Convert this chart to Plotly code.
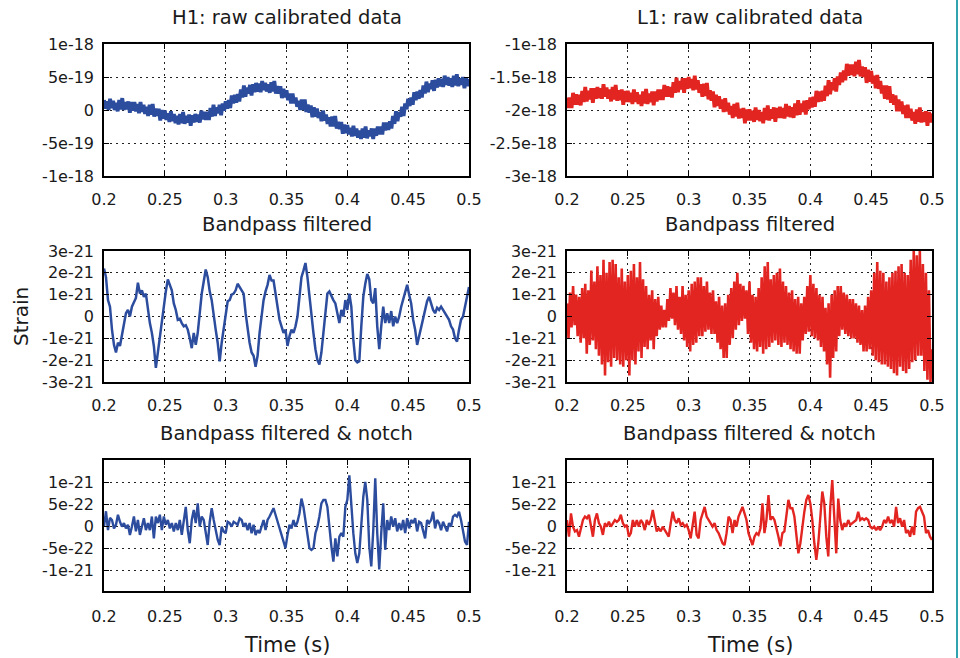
import numpy as np
import plotly.graph_objects as go

# ---------------- data ----------------
# raw calibrated strain, units of 1e-18, sampled every 0.00125 s from 0.2 to 0.5 s
h1_raw_e18 = [
    0.15, 0.02, 0.13, 0.00, 0.17, 0.03, 0.14, 0.00, 0.11, -0.02, 0.15, 0.01,
    0.18, 0.00, 0.12, 0.01, 0.13, -0.04, 0.12, -0.01, 0.12, -0.02, 0.09, -0.05,
    0.12, -0.03, 0.08, -0.06, 0.05, -0.09, 0.08, -0.07, 0.09, -0.10, 0.02, -0.09,
    0.02, -0.16, 0.00, -0.13, -0.01, -0.15, -0.05, -0.18, -0.02, -0.17, -0.06, -0.20,
    -0.09, -0.22, -0.06, -0.20, -0.03, -0.21, -0.09, -0.19, -0.07, -0.24, -0.08, -0.19,
    -0.06, -0.18, -0.07, -0.19, -0.01, -0.14, -0.03, -0.15, -0.03, -0.15, 0.03, -0.10,
    0.08, -0.09, 0.04, -0.05, 0.08, -0.08, 0.10, -0.01, 0.13, 0.02, 0.15, 0.03,
    0.22, 0.10, 0.23, 0.11, 0.24, 0.13, 0.31, 0.19, 0.37, 0.20, 0.34, 0.25,
    0.38, 0.22, 0.39, 0.27, 0.41, 0.28, 0.40, 0.27, 0.44, 0.30, 0.41, 0.28,
    0.39, 0.26, 0.42, 0.28, 0.44, 0.25, 0.36, 0.25, 0.36, 0.18, 0.32, 0.19,
    0.30, 0.15, 0.25, 0.10, 0.25, 0.10, 0.19, 0.05, 0.14, 0.00, 0.16, 0.00,
    0.16, -0.03, 0.08, -0.04, 0.07, -0.11, 0.04, -0.10, 0.02, -0.12, -0.03, -0.17,
    -0.01, -0.16, -0.07, -0.21, -0.11, -0.25, -0.10, -0.25, -0.09, -0.28, -0.18, -0.29,
    -0.18, -0.36, -0.22, -0.35, -0.23, -0.37, -0.27, -0.40, -0.24, -0.39, -0.28, -0.42,
    -0.31, -0.44, -0.28, -0.42, -0.25, -0.43, -0.31, -0.40, -0.28, -0.44, -0.28, -0.39,
    -0.25, -0.37, -0.25, -0.37, -0.19, -0.31, -0.19, -0.30, -0.17, -0.28, -0.09, -0.21,
    -0.02, -0.17, -0.03, -0.10, 0.05, -0.09, 0.10, 0.01, 0.17, 0.06, 0.19, 0.08,
    0.27, 0.15, 0.28, 0.17, 0.30, 0.19, 0.37, 0.25, 0.43, 0.27, 0.40, 0.32,
    0.45, 0.29, 0.46, 0.34, 0.48, 0.36, 0.47, 0.35, 0.52, 0.38, 0.50, 0.37,
    0.48, 0.35, 0.52, 0.37, 0.54, 0.36, 0.48, 0.38, 0.50, 0.33, 0.49, 0.36,
    0.47,
]
l1_raw_e18 = [
    -1.81, -1.97, -1.81, -1.97, -1.74, -1.92, -1.76, -1.92, -1.77, -1.93, -1.71, -1.88,
    -1.65, -1.87, -1.71, -1.84, -1.67, -1.89, -1.67, -1.83, -1.65, -1.82, -1.67, -1.83,
    -1.61, -1.80, -1.66, -1.83, -1.69, -1.87, -1.65, -1.84, -1.62, -1.86, -1.70, -1.85,
    -1.69, -1.92, -1.71, -1.88, -1.71, -1.88, -1.74, -1.91, -1.69, -1.88, -1.73, -1.91,
    -1.77, -1.94, -1.72, -1.90, -1.68, -1.91, -1.75, -1.88, -1.72, -1.93, -1.72, -1.87,
    -1.69, -1.85, -1.69, -1.85, -1.62, -1.80, -1.64, -1.80, -1.65, -1.81, -1.58, -1.74,
    -1.51, -1.73, -1.56, -1.69, -1.52, -1.74, -1.52, -1.68, -1.50, -1.67, -1.53, -1.70,
    -1.48, -1.69, -1.55, -1.74, -1.61, -1.80, -1.60, -1.79, -1.59, -1.84, -1.70, -1.86,
    -1.72, -1.96, -1.77, -1.94, -1.79, -1.98, -1.84, -2.03, -1.82, -2.02, -1.89, -2.07,
    -1.94, -2.12, -1.91, -2.10, -1.89, -2.13, -1.98, -2.12, -1.97, -2.20, -1.99, -2.16,
    -1.99, -2.16, -2.01, -2.18, -1.96, -2.15, -2.00, -2.17, -2.03, -2.20, -1.97, -2.15,
    -1.93, -2.16, -1.99, -2.13, -1.96, -2.18, -1.97, -2.12, -1.95, -2.12, -1.97, -2.13,
    -1.91, -2.10, -1.94, -2.11, -1.96, -2.12, -1.90, -2.08, -1.85, -2.07, -1.90, -2.03,
    -1.86, -2.07, -1.85, -1.99, -1.81, -1.96, -1.80, -1.95, -1.71, -1.88, -1.72, -1.87,
    -1.71, -1.86, -1.63, -1.79, -1.55, -1.76, -1.58, -1.70, -1.52, -1.72, -1.49, -1.62,
    -1.43, -1.58, -1.40, -1.55, -1.30, -1.48, -1.31, -1.47, -1.31, -1.49, -1.27, -1.46,
    -1.24, -1.49, -1.34, -1.50, -1.35, -1.59, -1.39, -1.57, -1.41, -1.60, -1.48, -1.67,
    -1.47, -1.68, -1.56, -1.75, -1.63, -1.83, -1.63, -1.84, -1.64, -1.89, -1.76, -1.92,
    -1.78, -2.02, -1.84, -2.02, -1.87, -2.06, -1.93, -2.12, -1.92, -2.12, -1.98, -2.16,
    -2.03, -2.21, -1.99, -2.18, -1.96, -2.19, -2.03, -2.18, -2.02, -2.24, -2.03, -2.19,
    -2.05,
]

# bandpass filtered strain, units of 1e-21
h1_band_e21 = [
    2.2, 1.8, 0.75, 0.45, -0.6, -1.3, -1.65, -1.2, -1.35, -0.85,
    -0.45, 0.15, 0.3, 0, 0.45, 0.7, 0.85, 1.55, 1.05, 1.2,
    0.9, 1.05, 0.3, -0.3, -0.75, -1.35, -2.35, -1.65, -0.9, -0.15,
    0.6, 1.15, 1.7, 1.45, 1.2, 0.6, 0.3, -0.15, -0.1, -0.3,
    -0.45, -0.4, -0.6, -1.0, -1.45, -0.75, -1.3, -0.75, 0.3, 1.05,
    1.6, 2.15, 1.8, 1.15, 0.75, 0, -0.6, -1.2, -2.05, -1.2,
    -0.6, 0.15, 0.7, 0.75, 1.0, 1.05, 1.2, 1.5, 1.35, 1.2,
    1.05, 0.15, -0.6, -1.2, -1.65, -1.8, -2.3, -1.8, -0.75, 0,
    0.75, 1.15, 1.45, 1.9, 1.65, 1.65, 1.05, 0.3, -0.15, -0.45,
    -0.75, -0.6, -1.35, -0.9, -0.6, -0.75, -0.45, 0, 0.9, 1.8,
    2.1, 2.45, 1.8, 0.9, -0.15, -0.75, -1.5, -2.0, -2.2, -1.65,
    -0.75, 0.15, 1.05, 1.15, 0.9, 0.75, 0.6, 0.15, -0.3, 0.3,
    0, 0.75, 0.3, 1.05, 0.45, -1.05, -2.0, -2.1, -2.05, -0.45,
    0.9, 1.5, 1.95, 1.7, 0.75, 0.6, 1.3, -0.45, -1.5, -0.45,
    0.45, -0.3, 0.15, -0.3, 0.25, -0.45, 0, -0.3, 0, 0.45,
    0.75, 1.05, 1.45, 1.0, 0.6, -0.15, -0.6, -1.3, -0.9, -0.6,
    -0.15, 0.3, 0.7, 0.9, 0.6, 0.3, 0.15, 0.4, 0.3, 0.45,
    0.3, 0.15, 0, -0.15, -0.45, -0.6, -1.0, -1.15, -0.6, -0.15,
    0, 0.45, 0.75, 1.35,
]
l1_band_e21 = [
    0.6, -1.0, 1.1, -0.5, 1.4, -0.4, 1.0, -0.9, 0.9, -1.2, 1.3, -1.0,
    1.5, -1.7, 1.2, -1.3, 2.1, -1.1, 1.6, -1.5, 2.3, -1.8, 1.9, -2.2,
    2.6, -2.7, 2.0, -2.1, 2.5, -2.3, 2.6, -1.9, 2.4, -2.0, 1.8, -2.2,
    2.2, -2.3, 1.6, -2.0, 1.9, -2.7, 2.1, -2.0, 2.4, -2.2, 1.8, -1.6,
    2.5, -1.9, 1.7, -1.4, 1.4, -1.5, 1.0, -1.1, 1.2, -1.5, 0.8, -0.9,
    0.9, -0.6, 0.5, -0.5, 0.3, -0.5, 0.8, -0.2, 1.3, -0.1, 1.1, -0.4,
    1.4, -0.6, 0.9, -0.8, 1.4, -1.1, 1.0, -1.4, 1.2, -1.6, 1.5, -1.3,
    1.6, -1.2, 1.8, -0.9, 1.8, -0.9, 1.4, -0.7, 1.6, -0.6, 1.1, -0.8,
    1.2, -0.8, 0.7, -1.2, 0.9, -1.5, 0.5, -1.9, 0.6, -1.9, 1.0, -1.3,
    1.3, -1.0, 1.6, -0.6, 2.0, -0.4, 1.5, -0.2, 1.4, -0.1, 1.2, -0.8,
    1.6, -1.2, 1.0, -1.5, 0.9, -1.6, 1.3, -1.4, 1.8, -1.7, 2.3, -1.5,
    2.5, -1.4, 1.7, -1.2, 1.9, -1.1, 2.0, -1.3, 2.2, -1.4, 1.6, -1.2,
    1.4, -1.3, 1.1, -1.5, 1.2, -1.6, 0.8, -1.7, 0.9, -1.7, 0.6, -1.1,
    0.9, -0.8, 1.4, -0.7, 1.9, -0.9, 1.5, -1.0, 1.3, -1.1, 1.0, -1.4,
    0.9, -1.6, 0.4, -2.2, 0.6, -2.8, 1.0, -1.9, 1.2, -1.6, 1.4, -0.9,
    1.4, -0.6, 1.1, -0.8, 1.0, -0.9, 0.8, -1.0, 0.8, -1.0, 0.6, -1.2,
    0.5, -1.3, 0.3, -1.6, 0.5, -1.6, 0.9, -1.5, 1.2, -1.8, 2.0, -2.0,
    2.5, -2.1, 2.1, -2.2, 2.0, -2.2, 1.6, -2.3, 1.8, -2.4, 2.0, -2.6,
    2.1, -2.7, 2.3, -2.3, 2.4, -2.5, 2.0, -2.6, 1.9, -2.4, 2.6, -2.1,
    3.0, -2.0, 2.8, -1.8, 3.0, -1.8, 2.4, -2.5, 2.0, -2.9, 1.2, -3.0,
    -1.5,
]

# bandpass filtered + notch, units of 1e-22
h1_notch_e22 = [
    0, 3.5, -0.8, 2.0, 1.5, -0.4,
    0.4, 2.7, 1.1, 0, 0.8, -0.4, 0.4, -1.9, 0, 2.3, -1.1, 1.5, -1.9, 0,
    1.9, -0.8, 0.8, -0.8, 2.3, -2.7, 2.3, 0.8, 2.7, -0.8, 2.3, 0.4, 1.5, -0.4,
    0.8, -1.1, 0.8, -0.8, 1.5, -1.9, 0.8, 4.5, -0.8, -3.8, 1.5, 3.8, 0.8, 5.3,
    0, 2.3, 1.5, -1.5, -4.2, 1.1, 4.2, 1.5, -1.1, -3.0, -4.2, 0, -1.1, -1.5,
    1.1, 0.8, 0, 1.1, 0.8, 0.4, 1.9, 1.5, 0, 0.8, -0.8, 0.8, -1.5, 0.4,
    -1.9, -0.8, -1.5, 0, 1.5, -0.8, 1.5, 2.3, 3.4, 4.2, 2.7, 1.1, -0.4, -1.5,
    -3.4, -4.9, -1.9, 0.4, -0.4, 1.5, 0, 1.1, 3.0, 6.4, 4.5, 1.5, -1.5, -4.9,
    -5.3, -4.9, -1.5, 0, 2.3, 5.3, 6.1, 6.1, 4.5, -0.8, -4.5, -8.0, -2.7, -6.8,
    -2.3, -1.5, -2.3, 4.5, 6.1, 11.7, 4.5, -1.5, -6.1, -8.3, -6.1, 0.8, 6.8, 10.2,
    6.1, -4.5, -9.1, -0.8, 11.0, -1.5, -9.8, -1.5, 5.3, -5.3, 1.5, -0.8, 2.3, 0,
    1.9, -1.1, 0.8, -0.8, 1.5, -1.5, 1.9, -0.4, 1.5, 0.8, 1.9, -1.1, 1.1, 0.8,
    -0.8, -2.7, 1.5, 0.8, 1.5, 3.4, -0.4, 1.5, 0.8, -0.8, 1.1, 0, -1.1, 0.8,
    0, 2.3, 2.7, 2.3, 3.4, 1.5, -1.1, -3.4, -4.2, 1.1,
]
l1_notch_e22 = [
    1.5, -2.3, 3.0, 0, -1.1, -0.8, -2.3, 0, 1.5, 2.3, 1.9, 2.7, 0, -2.3,
    1.5, 3.0, 0.8, 0, -1.9, 0.8, 0, 1.1, 0, 0.8, 1.5, 1.1, 1.5, 2.7,
    0.8, 0, 0.4, -2.3, -1.5, 1.5, 0, 1.5, 0, 1.5, 0.8, -0.8, 1.5, 0.4,
    1.5, 3.8, 1.5, -1.1, -0.4, -1.1, 0, -0.8, -1.5, -2.3, 0.8, 3.4, 1.5, 0.8,
    1.9, 0.4, 0.8, 0, 0.4, -0.8, -2.7, 0.8, 3.4, -1.9, -2.7, 1.5, 3.0, 4.5,
    2.3, 1.5, 0.8, 0, 0.8, -0.8, -1.5, -2.7, -3.8, -4.2, -1.5, 2.3, 1.5, -1.5,
    1.5, 0, 2.3, 3.4, 4.5, 3.0, 1.5, -1.5, -2.7, -4.2, -2.3, -1.5, -1.9, -0.4,
    5.3, -1.5, 1.5, 7.2, 1.5, 2.3, 1.5, -0.8, -2.3, -4.5, -1.5, -1.1, 2.3, 6.1,
    4.2, 4.2, 2.3, -1.5, -6.1, -3.8, 0, 3.4, 6.1, 7.2, 5.3, 1.5, -3.8, -7.6,
    -3.8, 3.0, 8.0, 5.3, -2.3, -6.8, 4.5, 10.6, 3.0, -6.1, 6.4, 1.5, -0.8, 0.8,
    0, 1.5, 0.4, 0.8, 1.1, 1.5, 3.4, 1.5, 1.9, 1.5, 1.9, 1.5, 0, -0.4,
    0, -0.8, 0, -0.8, 0, 1.5, 0.8, 2.3, 0.8, 1.5, 0, 4.5, 0.8, 1.9,
    0, 1.5, -1.5, -0.8, -2.3, 0, -1.9, 3.4, 4.2, 4.5, 3.4, 2.3, -1.5, -0.8,
    -2.3, -3.0,
]

x_ticks = [0.2, 0.25, 0.3, 0.35, 0.4, 0.45, 0.5]
x_ticktext = ["0.2", "0.25", "0.3", "0.35", "0.4", "0.45", "0.5"]
h1_raw_ticks = [-1e-18, -5e-19, 0, 5e-19, 1e-18]
h1_raw_ticktext = ["-1e-18", "-5e-19", "0", "5e-19", "1e-18"]
l1_raw_ticks = [-3e-18, -2.5e-18, -2e-18, -1.5e-18, -1e-18]
l1_raw_ticktext = ["-3e-18", "-2.5e-18", "-2e-18", "-1.5e-18", "-1e-18"]
band_ticks = [-3e-21, -2e-21, -1e-21, 0, 1e-21, 2e-21, 3e-21]
band_ticktext = ["-3e-21", "-2e-21", "-1e-21", "0", "1e-21", "2e-21", "3e-21"]
notch_ticks = [-1e-21, -5e-22, 0, 5e-22, 1e-21]
notch_ticktext = ["-1e-21", "-5e-22", "0", "5e-22", "1e-21"]

titles = ["H1: raw calibrated data", "L1: raw calibrated data",
          "Bandpass filtered", "Bandpass filtered",
          "Bandpass filtered & notch", "Bandpass filtered & notch"]

BLUE = "#2c4c9e"
RED = "#e32522"
FONT = "DejaVu Sans"
W, H = 960, 658


def tgrid(vals):
    return np.linspace(0.2, 0.5, len(vals))


series = [
    (np.array(h1_raw_e18) * 1e-18, BLUE, 3.8),
    (np.array(l1_raw_e18) * 1e-18, RED, 3.8),
    (np.array(h1_band_e21) * 1e-21, BLUE, 2.5),
    (np.array(l1_band_e21) * 1e-21, RED, 2.6),
    (np.array(h1_notch_e22) * 1e-22, BLUE, 2.4),
    (np.array(l1_notch_e22) * 1e-22, RED, 2.4),
]

fig = go.Figure()
for i, (y, col, lw) in enumerate(series):
    n = "" if i == 0 else str(i + 1)
    fig.add_trace(go.Scatter(
        x=tgrid(y), y=y, mode="lines", line=dict(color=col, width=lw),
        xaxis="x" + n, yaxis="y" + n, showlegend=False, hoverinfo="skip"))

# panel geometry in pixels
cols_px = [(104, 469), (567, 932)]
rows_px = [(44, 176), (251, 382), (460, 591)]
yranges = [([-1e-18, 1e-18], h1_raw_ticks, h1_raw_ticktext),
           ([-3e-18, -1e-18], l1_raw_ticks, l1_raw_ticktext),
           ([-3e-21, 3e-21], band_ticks, band_ticktext),
           ([-3e-21, 3e-21], band_ticks, band_ticktext),
           ([-1.47e-21, 1.52e-21], notch_ticks, notch_ticktext),
           ([-1.47e-21, 1.52e-21], notch_ticks, notch_ticktext)]


def px(x):
    return x / W


def py(y):
    return 1 - y / H


common = dict(showline=True, linecolor="black", linewidth=1.5, mirror="ticks",
              ticks="inside", ticklen=5, tickwidth=1.2, tickcolor="black",
              showgrid=True, gridcolor="#222222", gridwidth=1, griddash="2px,4px",
              zeroline=False, automargin=False,
              tickfont=dict(family=FONT, size=16, color="#1a1a1a"))

layout = {}
annotations = []
for i in range(6):
    r, c = divmod(i, 2)
    n = "" if i == 0 else str(i + 1)
    x0, x1 = cols_px[c]
    y0, y1 = rows_px[r]
    layout["xaxis" + n] = dict(
        common, domain=[px(x0), px(x1)], range=[0.2, 0.5], anchor="y" + n,
        tickmode="array", tickvals=x_ticks, ticktext=x_ticktext,
        ticklabelstandoff=(10 if r == 2 else 8))
    yr, tv, tt = yranges[i]
    layout["yaxis" + n] = dict(
        common, domain=[py(y1), py(y0)], range=yr, anchor="x" + n,
        tickmode="array", tickvals=tv, ticktext=tt, ticklabelstandoff=5)
    ty = [18, 224, 433][r]
    annotations.append(dict(
        text=titles[i], x=px((x0 + x1) / 2), y=py(ty), xref="paper", yref="paper",
        xanchor="center", yanchor="middle", showarrow=False,
        font=dict(family=FONT, size=19.5, color="#1a1a1a")))

for cx in [(104 + 469) / 2, (567 + 932) / 2]:
    annotations.append(dict(
        text="Time (s)", x=px(cx), y=py(645), xref="paper", yref="paper",
        xanchor="center", yanchor="middle", showarrow=False,
        font=dict(family=FONT, size=21, color="#1a1a1a")))
annotations.append(dict(
    text="Strain", x=px(21), y=py(317), xref="paper", yref="paper",
    xanchor="center", yanchor="middle", showarrow=False, textangle=-90,
    font=dict(family=FONT, size=20, color="#1a1a1a")))

fig.update_layout(
    width=W, height=H, margin=dict(l=0, r=0, t=0, b=0, autoexpand=False),
    paper_bgcolor="white", plot_bgcolor="white",
    annotations=annotations,
    shapes=[dict(type="line", xref="paper", yref="paper", x0=px(957), x1=px(957),
                 y0=0, y1=1, layer="above",
                 line=dict(color="#2fa3b0", width=2))],
    **layout)

# remove the browser's default 8px page margin so the figure fills the window
fig.write_html("out.html",
               config={"displayModeBar": False},
               post_script="document.body.style.margin='0';"
                           "document.body.style.overflow='hidden';")
